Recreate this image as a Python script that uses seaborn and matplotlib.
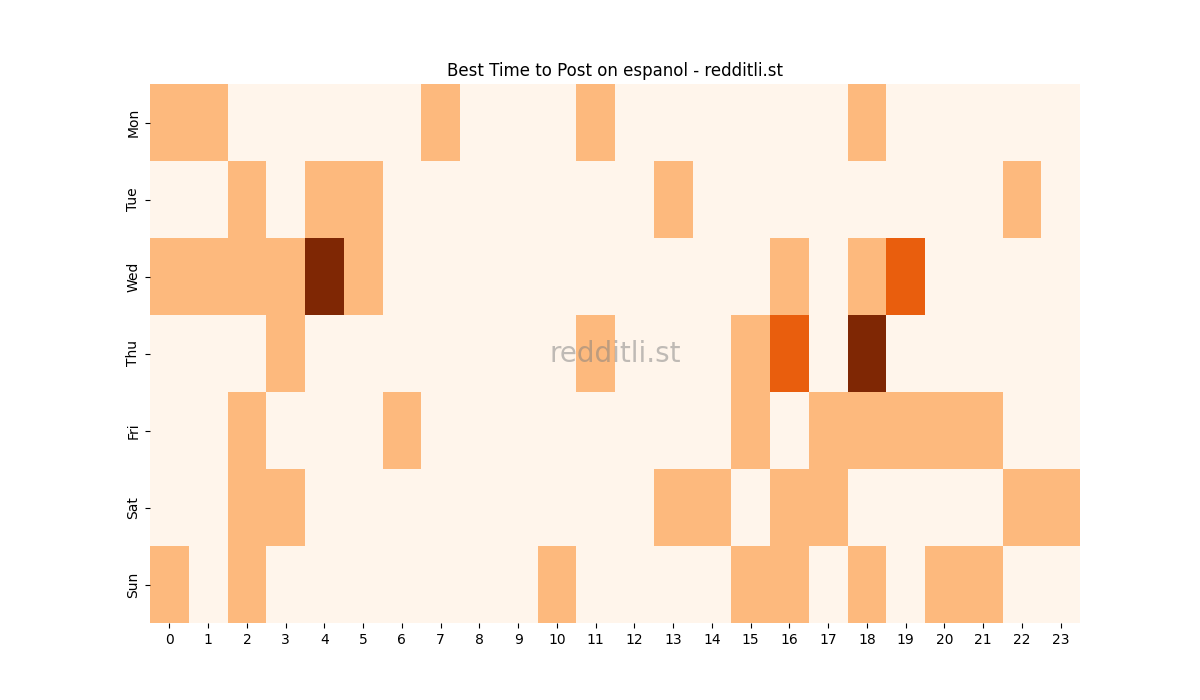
import numpy as np
import pandas as pd
import matplotlib
matplotlib.use("Agg")
import matplotlib.pyplot as plt
import seaborn as sns

# Posting activity level per day / hour
days = ['Mon', 'Tue', 'Wed', 'Thu', 'Fri', 'Sat', 'Sun']
hours = list(range(24))

mon = [1, 1, 0, 0, 0, 0, 0, 1, 0, 0, 0, 1, 0, 0, 0, 0, 0, 0, 1, 0, 0, 0, 0, 0]
tue = [0, 0, 1, 0, 1, 1, 0, 0, 0, 0, 0, 0, 0, 1, 0, 0, 0, 0, 0, 0, 0, 0, 1, 0]
wed = [1, 1, 1, 1, 3, 1, 0, 0, 0, 0, 0, 0, 0, 0, 0, 0, 1, 0, 1, 2, 0, 0, 0, 0]
thu = [0, 0, 0, 1, 0, 0, 0, 0, 0, 0, 0, 1, 0, 0, 0, 1, 2, 0, 3, 0, 0, 0, 0, 0]
fri = [0, 0, 1, 0, 0, 0, 1, 0, 0, 0, 0, 0, 0, 0, 0, 1, 0, 1, 1, 1, 1, 1, 0, 0]
sat = [0, 0, 1, 1, 0, 0, 0, 0, 0, 0, 0, 0, 0, 1, 1, 0, 1, 1, 0, 0, 0, 0, 1, 1]
sun = [1, 0, 1, 0, 0, 0, 0, 0, 0, 0, 1, 0, 0, 0, 0, 1, 1, 0, 1, 0, 1, 1, 0, 0]

df = pd.DataFrame([mon, tue, wed, thu, fri, sat, sun], index=days, columns=hours)

fig, ax = plt.subplots(figsize=(12, 7), dpi=100)
sns.heatmap(df, cmap='Oranges', vmin=0, vmax=3, cbar=False, ax=ax)

ax.set_title('Best Time to Post on espanol - redditli.st')
ax.set_xlabel('')
ax.set_ylabel('')
ax.set_yticklabels(days, rotation=90, va='center')
ax.set_xticklabels(hours, rotation=0)

# Watermark
ax.text(0.5, 0.5, 'redditli.st', transform=ax.transAxes, ha='center', va='center',
        fontsize=20, color='gray', alpha=0.5)

fig.savefig('out.png', dpi=100)
